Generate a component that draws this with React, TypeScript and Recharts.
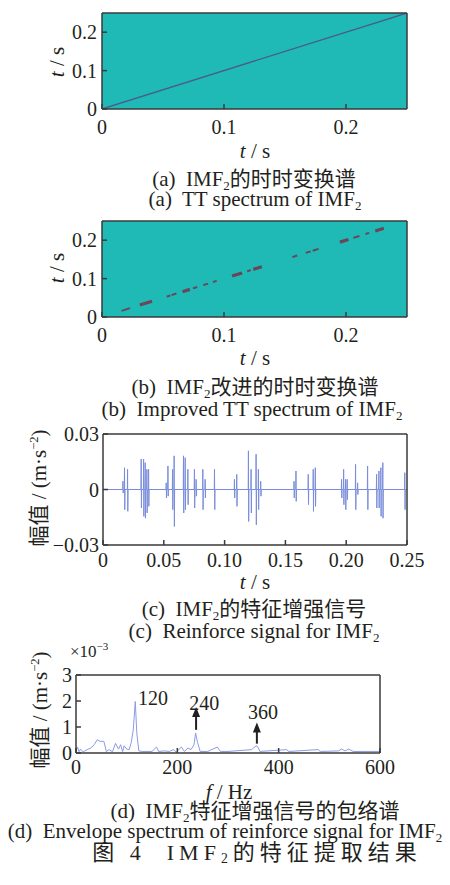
import { LineChart, Line, XAxis, YAxis, CartesianGrid, ReferenceLine, ReferenceDot } from 'recharts'
import type { ReactNode } from 'react'

// ── fonts / colours ───────────────────────────────────────────
const FONT = '"Liberation Serif", "Times New Roman", "Noto Sans CJK SC", serif'
const INK = '#231f20'
const FRAME = '#3a3a3a'
const TEAL = '#1fbab5'

// ── (a) TT spectrum ───────────────────────────────────────────
const aTime = [0, 0.25]
const aRidge = [0, 0.25]
const ttTicks = [0, 0.1, 0.2]
const ttTickLabels = ['0', '0.1', '0.2']

// ── (b) improved TT spectrum: dashes on the diagonal ──────────
const bSegStart = [0.016, 0.031, 0.053, 0.057, 0.066, 0.0746, 0.083, 0.091, 0.1066, 0.119, 0.124, 0.156, 0.167, 0.1727, 0.195, 0.206, 0.216, 0.224]
const bSegEnd = [0.023, 0.041, 0.056, 0.061, 0.072, 0.078, 0.087, 0.094, 0.1148, 0.122, 0.131, 0.16, 0.171, 0.1775, 0.202, 0.211, 0.219, 0.231]
const bSegBold = [false, true, false, false, true, false, false, false, true, false, true, false, false, false, true, false, false, true]

// ── (c) reinforce signal: spikes (time, max, min) ─────────────
const cSpikeT = [0.0164, 0.0177, 0.0202, 0.0314, 0.0334, 0.0347, 0.0361, 0.0375, 0.052, 0.0534, 0.0572, 0.0585, 0.0662, 0.0676, 0.0698, 0.0752, 0.0766, 0.0821, 0.084, 0.0917, 0.1081, 0.11, 0.1196, 0.1218, 0.1259, 0.1278, 0.1297, 0.1571, 0.1587, 0.1688, 0.1729, 0.1746, 0.1962, 0.1979, 0.1995, 0.2008, 0.2077, 0.2094, 0.2176, 0.225, 0.2269, 0.2285, 0.2301, 0.2482]
const cSpikeHi = [0.0045, 0.0118, 0.0109, 0.0164, 0.0164, 0.0145, 0.0109, 0.0109, 0.0036, 0.0127, 0.0109, 0.0182, 0.0182, 0.0172, 0.0109, 0.0109, 0.0055, 0.0109, 0.0055, 0.0109, 0.0055, 0.0082, 0.0209, 0.0109, 0.0191, 0.0109, 0.0045, 0.0045, 0.01, 0.0082, 0.0109, 0.0118, 0.0055, 0.0109, 0.0055, 0.0055, 0.0136, 0.0036, 0.0127, 0.0082, 0.01, 0.0118, 0.0145, 0.0091]
const cSpikeLo = [-0.0019, -0.0109, -0.0118, -0.01, -0.0145, -0.0155, -0.0127, -0.0091, -0.0046, -0.0036, -0.0109, -0.02, -0.0127, -0.0109, -0.0082, -0.01, -0.0036, -0.0109, -0.0046, -0.0109, -0.0046, -0.0091, -0.0173, -0.0127, -0.0191, -0.0109, -0.0036, -0.0046, -0.0064, -0.0082, -0.0118, -0.0091, -0.0046, -0.0082, -0.0109, -0.0055, -0.0109, -0.0027, -0.0109, -0.01, -0.01, -0.0145, -0.0155, -0.0109]
const cXTicks = [0, 0.05, 0.1, 0.15, 0.2, 0.25]
const cXTickLabels = ['0', '0.05', '0.10', '0.15', '0.20', '0.25']
const cYTicks = [-0.03, 0, 0.03]
const cYTickLabels = ['\u22120.03', '0', '0.03']

// ── (d) envelope spectrum (×10^-3) ────────────────────────────
const dFreq = [0, 3, 6, 9, 14, 22, 29, 36, 42, 47, 55, 60, 65, 72, 78, 84, 88, 92, 95, 100, 105, 109, 113, 117, 120, 124, 130, 150, 159, 163, 175, 184, 192, 198, 208, 214, 221, 227, 233, 236, 240, 245, 260, 279, 285, 300, 347, 352, 357, 360, 363, 416, 420, 478, 482, 518, 524, 531, 538, 547, 600]
const dAmp = [0.05, 0.23, 0.05, 0.15, 0.04, 0.13, 0.19, 0.32, 0.51, 0.45, 0.45, 0.05, 0.13, 0.05, 0.37, 0.15, 0.32, 0.05, 0.28, 0.15, 0.13, 0.4, 0.89, 1.98, 0.77, 0.08, 0.06, 0.06, 0.23, 0.06, 0.08, 0.06, 0.13, 0.04, 0.23, 0.06, 0.19, 0.13, 0.32, 0.77, 0.4, 0.06, 0.06, 0.23, 0.06, 0.06, 0.13, 0.23, 0.28, 0.19, 0.06, 0.13, 0.06, 0.13, 0.06, 0.08, 0.15, 0.08, 0.15, 0.06, 0.06]
const dXTicks = [0, 200, 400, 600]
const dYTicks = [0, 1, 2, 3]
const dPeakLabels = ['120', '240', '360']
const dPeakLabelF = [152, 253, 369]
const dPeakLabelY = [2.12, 1.93, 1.58]
const dArrowF = [237, 357]
const dArrowTip = [1.77, 1.17]
const dArrowBase = [0.89, 0.36]

// ── helpers ───────────────────────────────────────────────────
const tickFont = { fill: INK, fontSize: 20, fontFamily: FONT }
const frameLine = { stroke: FRAME, strokeWidth: 1.5 }

const Sub = () => (
  <span style={{ fontSize: '0.62em', verticalAlign: '-0.28em', lineHeight: 0 }}>2</span>
)

function Txt({ x, y, size = 21, spacing = 0, children }: { x: number; y: number; size?: number; spacing?: number; children: ReactNode }) {
  return (
    <div style={{
      position: 'absolute', left: x, top: y, transform: 'translate(-50%, -50%)',
      whiteSpace: 'nowrap', fontSize: size, lineHeight: 0.85, letterSpacing: spacing,
    }}>
      {children}
    </div>
  )
}

function VTxt({ x, y, size = 21, children }: { x: number; y: number; size?: number; children: ReactNode }) {
  return (
    <div style={{
      position: 'absolute', left: x, top: y, transform: 'translate(-50%, -50%) rotate(-90deg)',
      whiteSpace: 'nowrap', fontSize: size, lineHeight: 1,
    }}>
      {children}
    </div>
  )
}

// frame: extra top / right axes close the box (axes of size 0 are not drawn, so 1px)
function FrameAxes({ xDomain, yDomain }: { xDomain: number[]; yDomain: number[] }) {
  return [
    <XAxis key="ft" xAxisId="top" orientation="top" type="number" domain={xDomain} height={1}
      tick={false} tickLine={false} axisLine={frameLine} />,
    <YAxis key="fr" yAxisId="right" orientation="right" type="number" domain={yDomain} width={1}
      tick={false} tickLine={false} axisLine={frameLine} />,
  ]
}

function segData(bold: boolean) {
  const pts: { t: number; v: number | null }[] = []
  bSegStart.forEach((s, i) => {
    if (bSegBold[i] !== bold) return
    pts.push({ t: s, v: s }, { t: bSegEnd[i], v: bSegEnd[i] }, { t: bSegEnd[i], v: null })
  })
  return pts
}

const aData = aTime.map((t, i) => ({ t, v: aRidge[i] }))

const cData: { t: number; v: number }[] = [{ t: 0, v: 0 }]
cSpikeT.forEach((t, i) => {
  cData.push({ t: t - 0.0002, v: 0 }, { t, v: cSpikeHi[i] }, { t: t + 0.0002, v: cSpikeLo[i] }, { t: t + 0.0004, v: 0 })
})
cData.push({ t: 0.25, v: 0 })

const dData = dFreq.map((f, i) => ({ f, v: dAmp[i] }))

// ── TT panel (a / b) ──────────────────────────────────────────
function TTPanel({ top, children }: { top: number; children: ReactNode }) {
  return (
    <div style={{ position: 'absolute', left: 0, top }}>
      <LineChart width={450} height={140} margin={{ top: 12, right: 42, bottom: 30, left: 101 }}>
        <CartesianGrid fill={TEAL} fillOpacity={1} horizontal={false} vertical={false} stroke="none" />
        <XAxis dataKey="t" type="number" domain={[0, 0.25]} ticks={ttTicks} height={1} interval={0}
          tickFormatter={(v: number) => ttTickLabels[ttTicks.indexOf(v)]}
          tick={tickFont} tickSize={-5} tickMargin={16} tickLine={frameLine} axisLine={frameLine}
          allowDataOverflow />
        <YAxis type="number" domain={[0, 0.25]} ticks={ttTicks} width={1} interval={0}
          tickFormatter={(v: number) => ttTickLabels[ttTicks.indexOf(v)]}
          tick={tickFont} tickSize={-5} tickMargin={10} tickLine={frameLine} axisLine={frameLine}
          allowDataOverflow />
        {FrameAxes({ xDomain: [0, 0.25], yDomain: [0, 0.25] })}
        {children}
      </LineChart>
    </div>
  )
}

export default function App() {
  return (
    <div style={{
      position: 'absolute', left: 0, top: 0, width: 450, height: 885,
      background: '#fff', color: INK, fontFamily: FONT, overflow: 'hidden',
    }}>
      {/* (a) */}
      <TTPanel top={0}>
        <Line data={aData} dataKey="v" stroke="#4b5a8c" strokeWidth={1.3} dot={false} isAnimationActive={false} />
      </TTPanel>
      <VTxt x={57} y={62}><i>t</i> / s</VTxt>
      <Txt x={255} y={152}><i>t</i> / s</Txt>
      <Txt x={254} y={180}>(a)&nbsp; IMF<Sub />的时时变换谱</Txt>
      <Txt x={255} y={200}>(a)&nbsp; TT spectrum of IMF<Sub /></Txt>

      {/* (b) */}
      <TTPanel top={208}>
        <Line data={segData(false)} dataKey="v" stroke="#6a4658" strokeWidth={2} dot={false}
          connectNulls={false} isAnimationActive={false} />
        <Line data={segData(true)} dataKey="v" stroke="#6a4658" strokeWidth={3.2} dot={false}
          connectNulls={false} isAnimationActive={false} />
      </TTPanel>
      <VTxt x={57} y={268}><i>t</i> / s</VTxt>
      <Txt x={255} y={359}><i>t</i> / s</Txt>
      <Txt x={255} y={388}>(b)&nbsp; IMF<Sub />改进的时时变换谱</Txt>
      <Txt x={252} y={410}>(b)&nbsp; Improved TT spectrum of IMF<Sub /></Txt>

      {/* (c) */}
      <div style={{ position: 'absolute', left: 0, top: 421 }}>
        <LineChart width={450} height={150} margin={{ top: 12, right: 42, bottom: 25, left: 102 }}>
          <XAxis dataKey="t" type="number" domain={[0, 0.25]} ticks={cXTicks} height={1} interval={0}
            tickFormatter={(v: number) => cXTickLabels[cXTicks.indexOf(v)]}
            tick={tickFont} tickSize={-5} tickMargin={13} tickLine={frameLine} axisLine={frameLine} />
          <YAxis type="number" domain={[-0.03, 0.03]} ticks={cYTicks} width={1} interval={0}
            tickFormatter={(v: number) => cYTickLabels[cYTicks.indexOf(v)]}
            tick={tickFont} tickSize={-5} tickMargin={9} tickLine={frameLine} axisLine={frameLine} />
          {FrameAxes({ xDomain: [0, 0.25], yDomain: [-0.03, 0.03] })}
          <Line data={cData} dataKey="v" stroke="#7a8dda" strokeWidth={1} dot={false} isAnimationActive={false} />
        </LineChart>
      </div>
      <VTxt x={39} y={488}>幅值 / (m·s<sup style={{ fontSize: '0.6em', lineHeight: 0 }}>−2</sup>)</VTxt>
      <Txt x={255} y={583}><i>t</i> / s</Txt>
      <Txt x={254} y={610}>(c)&nbsp; IMF<Sub />的特征增强信号</Txt>
      <Txt x={254} y={632}>(c)&nbsp; Reinforce signal for IMF<Sub /></Txt>

      {/* (d) */}
      <div style={{ position: 'absolute', left: 0, top: 662 }}>
        <LineChart width={450} height={120} margin={{ top: 12, right: 69, bottom: 28, left: 75 }}>
          <XAxis dataKey="f" type="number" domain={[0, 600]} ticks={dXTicks} height={1} interval={0}
            tick={tickFont} tickSize={-5} tickMargin={12} tickLine={frameLine} axisLine={frameLine} />
          <YAxis type="number" domain={[0, 3]} ticks={dYTicks} width={1} interval={0}
            tick={tickFont} tickSize={-5} tickMargin={9} tickLine={frameLine} axisLine={frameLine} />
          {FrameAxes({ xDomain: [0, 600], yDomain: [0, 3] })}
          <Line data={dData} dataKey="v" stroke="#8c9be6" strokeWidth={1} dot={false} isAnimationActive={false} />
          {dArrowF.map((f, i) => (
            <ReferenceLine key={`s${i}`} segment={[{ x: f, y: dArrowBase[i] }, { x: f, y: dArrowTip[i] - 0.15 }]}
              stroke={INK} strokeWidth={2} />
          ))}
          {dArrowF.map((f, i) => (
            <ReferenceDot key={`h${i}`} x={f} y={dArrowTip[i]} r={0}
              shape={(p: { cx?: number; cy?: number }) => (
                <path d={`M${p.cx},${p.cy} l-4,10 l8,0 z`} fill={INK} />
              )} />
          ))}
          {dPeakLabels.map((lab, i) => (
            <ReferenceDot key={`l${i}`} x={dPeakLabelF[i]} y={dPeakLabelY[i]} r={0}
              shape={(p: { cx?: number; cy?: number }) => (
                <text x={p.cx} y={p.cy} dy="0.34em" textAnchor="middle" fontSize={20}
                  fontFamily={FONT} fill={INK}>{lab}</text>
              )} />
          ))}
        </LineChart>
      </div>
      <div style={{ position: 'absolute', left: 70, top: 643, fontSize: 17, lineHeight: 1 }}>
        ×10<sup style={{ fontSize: '0.65em', lineHeight: 0 }}>−3</sup>
      </div>
      <VTxt x={40} y={710}>幅值 / (m·s<sup style={{ fontSize: '0.6em', lineHeight: 0 }}>−2</sup>)</VTxt>
      <Txt x={229} y={793}><i>f</i> / Hz</Txt>
      <Txt x={255} y={812}>(d)&nbsp; IMF<Sub />特征增强信号的包络谱</Txt>
      <Txt x={225} y={832}>(d)&nbsp; Envelope spectrum of reinforce signal for IMF<Sub /></Txt>
      <Txt x={257} y={853} size={22} spacing={5}>图 4&nbsp; IMF<Sub />的特征提取结果</Txt>
    </div>
  )
}
